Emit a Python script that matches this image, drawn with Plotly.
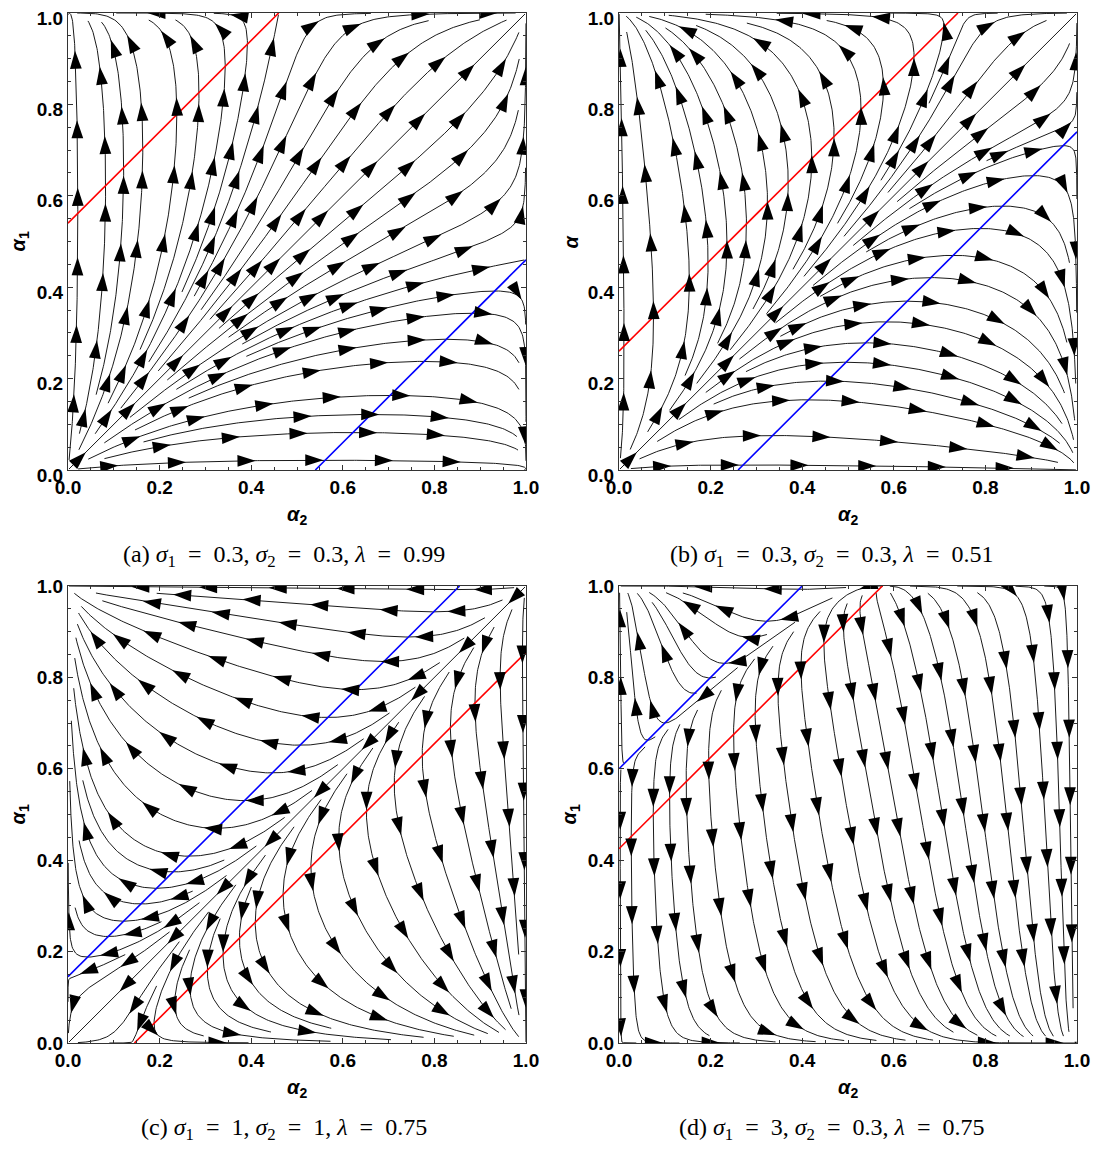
import math
from collections import deque
import plotly.graph_objects as go

# ---------------- data ----------------
panel_letters = ["a", "b", "c", "d"]
sigma1 = ["0.3", "0.3", "1", "3"]
sigma2 = ["0.3", "0.3", "1", "0.3"]
lambdas = ["0.99", "0.51", "0.75", "0.75"]
# red line: alpha1 = alpha2 + red_intercepts[k]  (alpha2-nullcline)
red_intercepts = [0.54, 0.26, -0.145, 0.425]
# blue line: alpha1 = alpha2 + blue_intercepts[k] (alpha1-nullcline)
blue_intercepts = [-0.54, -0.26, 0.145, 0.60]
# relative speed of alpha2 (horizontal) and alpha1 (vertical) dynamics
rate_h = [1.0, 1.0, 1.0, 1.0]
rate_v = [1.0, 1.0, 1.0, 4.0]
y_titles = ["<b><i>α</i><sub>1</sub></b>", "<b><i>α</i></b>",
            "<b><i>α</i><sub>1</sub></b>", "<b><i>α</i><sub>1</sub></b>"]
x_title = "<b><i>α</i><sub>2</sub></b>"
tick_vals = [0.0, 0.2, 0.4, 0.6, 0.8, 1.0]
tick_text = ["0.0", "0.2", "0.4", "0.6", "0.8", "1.0"]

# ---------------- layout (pixels, page coordinates) ----------------
PAGE_OFF = 8                     # default body margin of the html page
W, H = 1099 - PAGE_OFF, 1149 - PAGE_OFF
plot_left = [68, 619, 68, 619]
plot_top = [13, 13, 586, 586]
ylabel_shift = [5, 5, 0, 0]
PW, PH = 458, 457
caption_x = [284, 832, 284, 832]


def streamlines(cx, cb, kx, ky, dsep=0.042, dtest=0.014, h=0.004):
    def vel(x, y):
        return (kx * x * (1 - x) * (x - y + cx),
                ky * y * (1 - y) * (y - x + cb))

    def dirn(x, y):
        u, v = vel(x, y)
        s = math.hypot(u, v)
        if s < 1e-10:
            return None
        return (u / s, v / s)

    cell = dsep / 2.0
    inv = 1.0 / cell
    grid = {}

    def near(x, y, d, g=grid):
        i = int(x * inv)
        j = int(y * inv)
        r = int(math.ceil(d / cell))
        d2 = d * d
        for a in range(i - r, i + r + 1):
            for b in range(j - r, j + r + 1):
                pts = g.get((a, b))
                if pts:
                    for (px, py) in pts:
                        ddx = px - x
                        ddy = py - y
                        if ddx * ddx + ddy * ddy < d2:
                            return True
        return False

    def add(line):
        for (x, y) in line:
            grid.setdefault((int(x * inv), int(y * inv)), []).append((x, y))

    def integrate(x, y, sgn):
        out = []
        prev = None
        for _ in range(1500):
            k1 = dirn(x, y)
            if k1 is None:
                break
            if prev is not None and k1[0] * prev[0] + k1[1] * prev[1] < 0.2:
                break
            mx = x + sgn * 0.5 * h * k1[0]
            my = y + sgn * 0.5 * h * k1[1]
            k2 = dirn(mx, my)
            if k2 is None:
                break
            nx = x + sgn * h * k2[0]
            ny = y + sgn * h * k2[1]
            if nx < 0 or nx > 1 or ny < 0 or ny > 1:
                break
            if near(nx, ny, dtest):
                break
            out.append((nx, ny))
            prev = k1
            x, y = nx, ny
        return out

    lines = []
    q = deque()

    def try_seed(x, y):
        if x <= 0.003 or x >= 0.997 or y <= 0.003 or y >= 0.997:
            return
        if near(x, y, dsep * 0.95):
            return
        if dirn(x, y) is None:
            return
        b = integrate(x, y, -1)
        f = integrate(x, y, 1)
        line = b[::-1] + [(x, y)] + f
        if len(line) < 6:
            return
        add(line)
        lines.append(line)
        for k in range(0, len(line), 3):
            px, py = line[k]
            d = dirn(px, py)
            if d:
                q.append((px - d[1] * dsep, py + d[0] * dsep))
                q.append((px + d[1] * dsep, py - d[0] * dsep))

    n = 30
    fallback = [((i + 0.5) / n, (j + 0.5) / n) for j in range(n) for i in range(n)]
    q.append((0.5, 0.5))
    fi = 0
    while True:
        if q:
            s = q.popleft()
        elif fi < len(fallback):
            s = fallback[fi]
            fi += 1
        else:
            break
        try_seed(*s)

    # arrows, staggered along neighbouring lines, no two arrows overlapping
    agrid = {}
    ax, ay, ang = [], [], []
    spacing = 0.15
    for idx, line in enumerate(lines):
        cum = [0.0]
        for k in range(1, len(line)):
            cum.append(cum[-1] + math.hypot(line[k][0] - line[k - 1][0],
                                            line[k][1] - line[k - 1][1]))
        L = cum[-1]
        if L < 0.06:
            continue
        if L < spacing * 1.3:
            targets = [0.5 * L + 0.015]
        else:
            phase = ((idx * 0.618) % 1.0) * spacing
            t = 0.05 + phase
            targets = []
            while t < L - 0.03:
                targets.append(t)
                t += spacing
            if not targets:
                targets = [0.5 * L]
        k = 0
        for t in targets:
            while k < len(cum) - 1 and cum[k] < t:
                k += 1
            px, py = line[k]
            d = dirn(px, py)
            if d is None:
                continue
            if near(px, py, 0.034, agrid):
                continue
            agrid.setdefault((int(px * inv), int(py * inv)), []).append((px, py))
            ax.append(px)
            ay.append(py)
            ang.append(math.degrees(math.atan2(d[0], d[1])))

    lx, ly = [], []
    for line in lines:
        for (x, y) in line:
            lx.append(x)
            ly.append(y)
        lx.append(None)
        ly.append(None)
    return lx, ly, ax, ay, ang


def px_x(v):
    return (v - PAGE_OFF) / W


def px_y(v):
    return 1 - (v - PAGE_OFF) / H


fig = go.Figure()
annotations = []
for p in range(4):
    xs = "x" if p == 0 else "x%d" % (p + 1)
    ys = "y" if p == 0 else "y%d" % (p + 1)
    lx, ly, ax_, ay_, ang = streamlines(red_intercepts[p], -blue_intercepts[p],
                                        rate_h[p], rate_v[p])
    fig.add_trace(go.Scatter(x=lx, y=ly, mode="lines", xaxis=xs, yaxis=ys,
                             line=dict(color="black", width=0.9),
                             hoverinfo="skip", showlegend=False))
    for icpt, col in ((red_intercepts[p], "#ff0000"), (blue_intercepts[p], "#0000ff")):
        x0 = max(0.0, -icpt)
        x1 = min(1.0, 1.0 - icpt)
        fig.add_trace(go.Scatter(x=[x0, x1], y=[x0 + icpt, x1 + icpt], mode="lines",
                                 xaxis=xs, yaxis=ys, line=dict(color=col, width=1.6),
                                 hoverinfo="skip", showlegend=False))
    fig.add_trace(go.Scatter(x=ax_, y=ay_, mode="markers", xaxis=xs, yaxis=ys,
                             marker=dict(symbol="arrow", size=19, angle=ang,
                                         color="black", line=dict(width=0)),
                             hoverinfo="skip", showlegend=False))

    L, T = plot_left[p], plot_top[p]
    axis_common = dict(range=[0, 1], showgrid=False, zeroline=False, showline=True,
                       linecolor="#333", linewidth=1, mirror="allticks",
                       ticks="inside", ticklen=5, tickwidth=1, tickcolor="#333",
                       tickmode="array", tickvals=tick_vals, ticktext=tick_text,
                       tickfont=dict(family="Liberation Sans", size=19, color="black",
                                     weight="bold"),
                       ticklabeloverflow="allow",
                       minor=dict(dtick=0.05, tick0=0, ticks="inside", ticklen=3,
                                  tickcolor="#333", showgrid=False),
                       automargin=False, fixedrange=True)
    xname = "xaxis" if p == 0 else "xaxis%d" % (p + 1)
    yname = "yaxis" if p == 0 else "yaxis%d" % (p + 1)
    fig.layout[xname] = dict(axis_common, domain=[px_x(L), px_x(L + PW)], anchor=ys)
    fig.layout[yname] = dict(axis_common, domain=[px_y(T + PH), px_y(T)], anchor=xs,
                             ticklabelshift=ylabel_shift[p])

    cxp = L + PW / 2
    annotations.append(dict(x=px_x(cxp), y=px_y(T + PH + 45), xref="paper", yref="paper",
                            text=x_title, showarrow=False, xanchor="center", yanchor="middle",
                            font=dict(family="Liberation Sans", size=20, color="black")))
    annotations.append(dict(x=px_x(L - 49), y=px_y(T + PH / 2), xref="paper", yref="paper",
                            text=y_titles[p], showarrow=False, textangle=-90,
                            xanchor="center", yanchor="middle",
                            font=dict(family="Liberation Sans", size=20, color="black")))
    cap = ("(%s) <i>σ</i><sub>1</sub>&nbsp; = &nbsp;%s, <i>σ</i><sub>2</sub>&nbsp; = &nbsp;%s, "
           "<i>λ</i>&nbsp; = &nbsp;%s") % (panel_letters[p], sigma1[p], sigma2[p], lambdas[p])
    annotations.append(dict(x=px_x(caption_x[p]), y=px_y(T + PH + 86), xref="paper",
                            yref="paper", text=cap, showarrow=False, xanchor="center",
                            yanchor="middle",
                            font=dict(family="Liberation Serif", size=24, color="black")))

fig.update_layout(width=W, height=H, margin=dict(l=0, r=0, t=0, b=0, autoexpand=False),
                  paper_bgcolor="white", plot_bgcolor="white",
                  annotations=annotations, showlegend=False)
fig.write_html("out.html")
